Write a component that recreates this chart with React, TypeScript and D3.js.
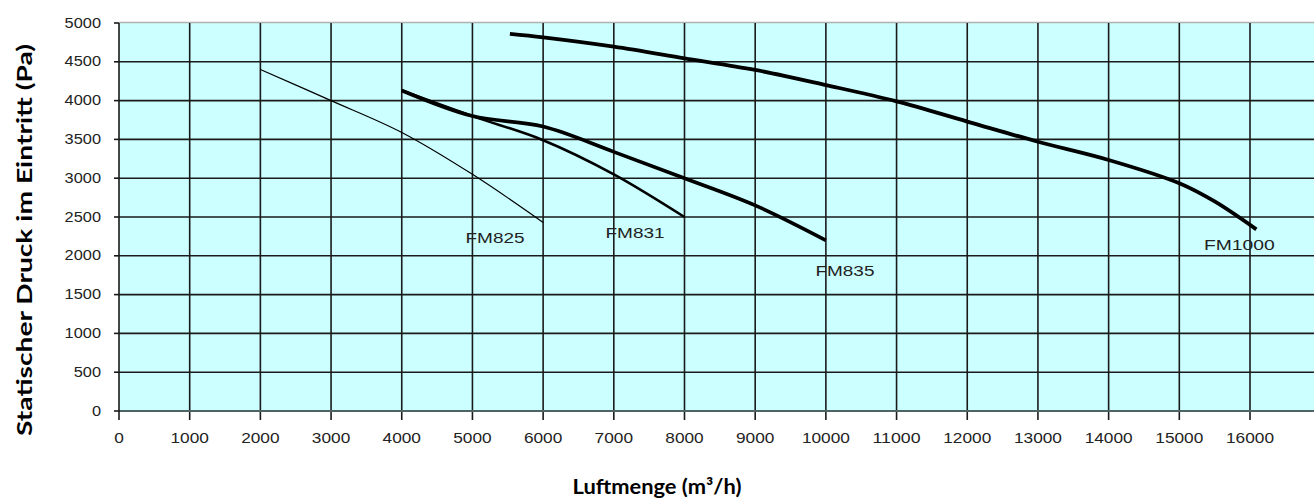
import React, { useRef, useEffect } from 'react';
import * as d3 from 'd3';

// Kennlinien (Luftmenge m³/h -> statischer Druck Pa)
const fm825X = [2000, 3000, 4000, 5000, 6000];
const fm825Y = [4400, 4000, 3590, 3050, 2430];

const fm831X = [4000, 5000, 6000, 7000, 8000];
const fm831Y = [4130, 3800, 3490, 3050, 2500];

const fm835X = [4000, 5000, 6000, 7000, 8000, 9000, 10000];
const fm835Y = [4130, 3800, 3665, 3340, 3000, 2650, 2200];

const fm1000X = [5530, 6000, 7000, 8000, 9000, 10000, 11000, 12000, 13000, 14000, 15000, 15500, 16090];
const fm1000Y = [4860, 4815, 4695, 4545, 4395, 4200, 3990, 3730, 3470, 3235, 2935, 2700, 2340];

const seriesNames = ['FM825', 'FM831', 'FM835', 'FM1000'];
// label anchor in data units
const labelX = [5320, 7300, 10270, 15850];
const labelY = [2230, 2295, 1810, 2140];

const xTicks = d3.range(0, 16001, 1000);
const yTicks = d3.range(0, 5001, 500);

const xTitle = 'Luftmenge (m³/h)';
const yTitle = 'Statischer Druck im Eintritt (Pa)';

const W = 1314;
const H = 504;

const Chart = () => {
    const svgRef = useRef(null);

    useEffect(() => {
        if (!svgRef.current) return;
        const svg = d3.select(svgRef.current);
        svg.selectAll('*').remove();

        const x = d3.scaleLinear().domain([0, 16000]).range([119, 1250]);
        const y = d3.scaleLinear().domain([0, 5000]).range([411, 23]);
        const plotRight = W;

        // background
        svg.append('rect')
            .attr('x', x(0)).attr('y', y(5000))
            .attr('width', plotRight - x(0)).attr('height', y(0) - y(5000))
            .attr('fill', '#ccffff');

        // top border
        svg.append('line')
            .attr('x1', x(0)).attr('x2', plotRight)
            .attr('y1', y(5000) - 0.5).attr('y2', y(5000) - 0.5)
            .attr('stroke', '#b0b0b0').attr('stroke-width', 1.5);

        const grid = svg.append('g').attr('stroke', '#1a1a1a').attr('stroke-width', 1.6);
        grid.selectAll('.hg')
            .data(yTicks.filter(d => d > 0 && d < 5000))
            .join('line')
            .attr('x1', x(0)).attr('x2', plotRight)
            .attr('y1', d => y(d)).attr('y2', d => y(d));
        grid.selectAll('.vg')
            .data(xTicks.filter(d => d > 0))
            .join('line')
            .attr('x1', d => x(d)).attr('x2', d => x(d))
            .attr('y1', y(5000)).attr('y2', y(0) + 9);

        // axes
        svg.append('line')
            .attr('x1', x(0)).attr('x2', plotRight)
            .attr('y1', y(0)).attr('y2', y(0))
            .attr('stroke', '#4d6464').attr('stroke-width', 2.2);
        svg.append('line')
            .attr('x1', x(0)).attr('x2', x(0))
            .attr('y1', y(5000)).attr('y2', y(0) + 9)
            .attr('stroke', '#1a1a1a').attr('stroke-width', 1.6);
        svg.append('g').selectAll('line')
            .data(yTicks)
            .join('line')
            .attr('x1', x(0) - 5).attr('x2', x(0))
            .attr('y1', d => y(d)).attr('y2', d => y(d))
            .attr('stroke', '#1a1a1a').attr('stroke-width', 1.6);

        // tick labels
        svg.append('g').selectAll('text')
            .data(xTicks)
            .join('text')
            .attr('x', d => x(d))
            .attr('y', 443)
            .attr('text-anchor', 'middle')
            .attr('font-family', '"Liberation Sans", Arial, sans-serif')
            .attr('font-size', 15)
            .attr('fill', '#222')
            .attr('textLength', d => String(d).length * 9.6)
            .attr('lengthAdjust', 'spacingAndGlyphs')
            .text(d => d);
        svg.append('g').selectAll('text')
            .data(yTicks)
            .join('text')
            .attr('x', 101)
            .attr('y', d => y(d) + 4.5)
            .attr('text-anchor', 'end')
            .attr('font-family', '"Liberation Sans", Arial, sans-serif')
            .attr('font-size', 14)
            .attr('fill', '#222')
            .attr('textLength', d => String(d).length * 9.1)
            .attr('lengthAdjust', 'spacingAndGlyphs')
            .text(d => d);

        // curves
        const lineGen = d3.line<[number, number]>()
            .x(d => x(d[0]))
            .y(d => y(d[1]))
            .curve(d3.curveCatmullRom.alpha(0.5));

        const curves = [
            { xs: fm825X, ys: fm825Y, w: 1.2 },
            { xs: fm831X, ys: fm831Y, w: 2.6 },
            { xs: fm835X, ys: fm835Y, w: 3.6 },
            { xs: fm1000X, ys: fm1000Y, w: 3.8 },
        ];
        curves.forEach(c => {
            const pts = c.xs.map((v, i) => [v, c.ys[i]] as [number, number]);
            svg.append('path')
                .attr('d', lineGen(pts))
                .attr('fill', 'none')
                .attr('stroke', '#000')
                .attr('stroke-width', c.w)
                .attr('stroke-linejoin', 'round');
        });

        // curve labels
        svg.append('g').selectAll('text')
            .data(seriesNames)
            .join('text')
            .attr('x', (d, i) => x(labelX[i]))
            .attr('y', (d, i) => y(labelY[i]) + 5)
            .attr('text-anchor', 'middle')
            .attr('font-family', '"Liberation Sans", Arial, sans-serif')
            .attr('font-size', 14)
            .attr('fill', '#222')
            .attr('textLength', d => d.length * 11.8)
            .attr('lengthAdjust', 'spacingAndGlyphs')
            .text(d => d);

        // axis titles
        svg.append('text')
            .attr('x', 657)
            .attr('y', 494)
            .attr('text-anchor', 'middle')
            .attr('font-family', 'Lato, "Open Sans", sans-serif')
            .attr('font-weight', 'bold')
            .attr('font-size', 20)
            .attr('fill', '#000')
            .attr('textLength', 169)
            .attr('lengthAdjust', 'spacingAndGlyphs')
            .text(xTitle);
        svg.append('text')
            .attr('transform', 'translate(32, 240) rotate(-90)')
            .attr('text-anchor', 'middle')
            .attr('font-family', 'Lato, "Open Sans", sans-serif')
            .attr('font-weight', 'bold')
            .attr('font-size', 20)
            .attr('fill', '#000')
            .attr('textLength', 392)
            .attr('lengthAdjust', 'spacingAndGlyphs')
            .text(yTitle);
    }, []);

    return <svg ref={svgRef} width={W} height={H} style={{ display: 'block' }} />;
};

export default function App() {
    return (
        <div style={{ position: 'absolute', left: 0, top: 0 }}>
            <Chart />
        </div>
    );
}
